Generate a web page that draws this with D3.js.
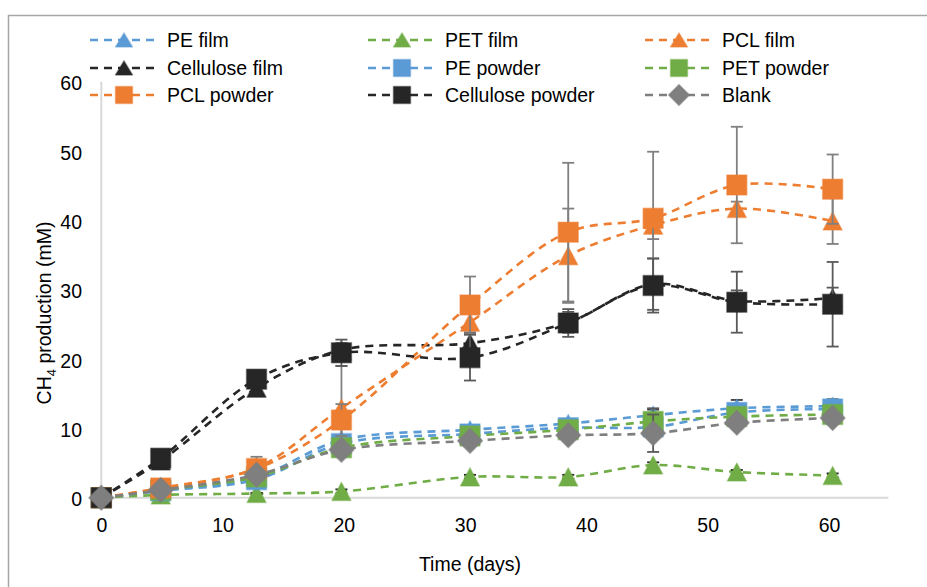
<!DOCTYPE html>
<html>
<head>
<meta charset="utf-8">
<script src="https://cdn.jsdelivr.net/npm/d3@7"></script>
<style>
  html, body { margin: 0; padding: 0; background: #ffffff; }
  svg { display: block; font-family: "Liberation Sans", Arial, sans-serif; }
</style>
</head>
<body>
<svg id="chart" width="927" height="587"></svg>
<script>
// Sampling days
const days = [0, 4.9, 12.8, 19.8, 30.4, 38.5, 45.5, 52.4, 60.3];

// Cumulative CH4 production (mM) per treatment
const peFilm          = [0, 1.0, 3.0, 8.3, 9.8, 10.7, 11.9, 12.9, 13.2];
const petFilm         = [0, 0.4, 0.6, 0.9, 3.0, 3.0, 4.7, 3.7, 3.2];
const pclFilm         = [0, 1.3, 4.3, 12.9, 25.3, 34.9, 39.3, 41.7, 39.9];
const celluloseFilm   = [0, 5.3, 15.8, 21.3, 22.3, 25.3, 30.8, 28.4, 28.8];
const pePowder        = [0, 1.0, 2.6, 7.8, 9.2, 10.1, 10.2, 12.3, 12.8];
const petPowder       = [0, 1.1, 3.0, 7.2, 8.9, 9.8, 11.0, 11.7, 12.0];
const pclPowder       = [0, 1.4, 4.2, 11.2, 27.8, 38.3, 40.3, 45.1, 44.5];
const cellulosePowder = [0, 5.7, 17.1, 20.9, 20.2, 25.2, 30.6, 28.2, 27.9];
const blank           = [0, 1.1, 3.3, 6.9, 8.2, 9.0, 9.3, 10.8, 11.5];

// Standard deviations (mM)
const peFilmSd          = [0, 0.2, 0.3, 0.5, 0.4, 0.5, 0.8, 1.2, 1.0];
const petFilmSd         = [0, 0.1, 0.1, 0.3, 0.3, 0.3, 0.4, 0.3, 0.3];
const pclFilmSd         = [0, 0.3, 0.8, 6.1, 1.5, 6.8, 2.0, 1.0, 3.3];
const celluloseFilmSd   = [0, 0.5, 0.8, 1.0, 1.5, 1.5, 3.7, 1.5, 1.5];
const pePowderSd        = [0, 0.2, 0.5, 0.6, 0.5, 0.5, 1.2, 1.0, 1.0];
const petPowderSd       = [0, 0.2, 0.4, 0.5, 0.5, 0.5, 1.9, 0.8, 0.8];
const pclPowderSd       = [0, 0.3, 1.7, 2.3, 4.1, 10.0, 9.6, 8.4, 5.0];
const cellulosePowderSd = [0, 0.7, 1.0, 1.9, 3.3, 2.0, 3.9, 4.4, 6.1];
const blankSd           = [0, 0.2, 0.4, 0.5, 0.5, 0.5, 2.7, 0.8, 0.8];

const seriesNames = ["PE film", "PET film", "PCL film", "Cellulose film",
                     "PE powder", "PET powder", "PCL powder", "Cellulose powder", "Blank"];
const xTicks = [0, 10, 20, 30, 40, 50, 60];
const yTicks = [0, 10, 20, 30, 40, 50, 60];

const series = [
  { name: seriesNames[0], values: peFilm,          sd: peFilmSd,          color: "#5b9bd5", marker: "triangle", err: "#404040" },
  { name: seriesNames[1], values: petFilm,         sd: petFilmSd,         color: "#70ad47", marker: "triangle", err: "#262626" },
  { name: seriesNames[2], values: pclFilm,         sd: pclFilmSd,         color: "#ed7d31", marker: "triangle", err: "#808080" },
  { name: seriesNames[3], values: celluloseFilm,   sd: celluloseFilmSd,   color: "#262626", marker: "triangle", err: "#595959" },
  { name: seriesNames[4], values: pePowder,        sd: pePowderSd,        color: "#5b9bd5", marker: "square",   err: "#404040" },
  { name: seriesNames[5], values: petPowder,       sd: petPowderSd,       color: "#70ad47", marker: "square",   err: "#595959" },
  { name: seriesNames[6], values: pclPowder,       sd: pclPowderSd,       color: "#ed7d31", marker: "square",   err: "#808080" },
  { name: seriesNames[7], values: cellulosePowder, sd: cellulosePowderSd, color: "#262626", marker: "square",   err: "#595959" },
  { name: seriesNames[8], values: blank,           sd: blankSd,           color: "#7f7f7f", marker: "diamond",  err: "#595959" }
];

const svg = d3.select("#chart");

// Chart frame
svg.append("rect")
  .attr("x", 8.5).attr("y", 15.5).attr("width", 940).attr("height", 600)
  .attr("fill", "#ffffff").attr("stroke", "#a6a6a6").attr("stroke-width", 1.5);

const x = d3.scaleLinear().domain([0, 60]).range([101.3, 829]);
const y = d3.scaleLinear().domain([0, 60]).range([497.7, 81.7]);

// Axis lines (value axis at x = 0, category axis at y = 0)
svg.append("line")
  .attr("x1", x(0)).attr("x2", x(0)).attr("y1", y(60)).attr("y2", y(0))
  .attr("stroke", "#d9d9d9").attr("stroke-width", 2);
svg.append("line")
  .attr("x1", x(-1)).attr("x2", x(64.9)).attr("y1", y(0)).attr("y2", y(0))
  .attr("stroke", "#d9d9d9").attr("stroke-width", 2);

const axisFont = 19.5;
// Tick labels via d3 axes with hidden domain/ticks
const xAxis = d3.axisBottom(x).tickValues(xTicks).tickSize(0).tickPadding(0).tickFormat(d3.format("d"));
svg.append("g").attr("transform", `translate(0, ${y(0) + 20})`).call(xAxis)
  .call(g => g.select(".domain").remove())
  .call(g => g.selectAll("text").attr("font-size", axisFont).attr("fill", "#000")
    .attr("font-family", "inherit"));

const yAxis = d3.axisLeft(y).tickValues(yTicks).tickSize(0).tickPadding(0).tickFormat(d3.format("d"));
svg.append("g").attr("transform", `translate(82, 2)`).call(yAxis)
  .call(g => g.select(".domain").remove())
  .call(g => g.selectAll("text").attr("font-size", axisFont).attr("fill", "#000")
    .attr("font-family", "inherit"));

// Axis titles
svg.append("text")
  .attr("x", 470).attr("y", 571)
  .attr("text-anchor", "middle").attr("font-size", axisFont).attr("fill", "#000")
  .text("Time (days)");

const yTitle = svg.append("text")
  .attr("transform", "translate(51, 313) rotate(-90)")
  .attr("text-anchor", "middle").attr("font-size", axisFont).attr("fill", "#000");
yTitle.append("tspan").text("CH");
yTitle.append("tspan").attr("font-size", 13).attr("dy", 5).text("4");
yTitle.append("tspan").attr("dy", -5).text(" production (mM)");

// Marker shapes
function markerPath(type, s) {
  if (type === "triangle") {
    const w = s.tw, h = s.th;
    return `M0,${-h / 2}L${w / 2},${h / 2}L${-w / 2},${h / 2}Z`;
  }
  if (type === "square") {
    const a = s.sq / 2;
    return `M${-a},${-a}H${a}V${a}H${-a}Z`;
  }
  const d = s.dm / 2;
  return `M0,${-d}L${d},0L0,${d}L${-d},0Z`;
}
const plotSizes = { tw: 19, th: 18, sq: 20, dm: 25 };
const legendSizes = { tw: 17, th: 14, sq: 17, dm: 21 };

const line = d3.line()
  .x(d => x(d.day)).y(d => y(d.v))
  .curve(d3.curveCatmullRom.alpha(0.5));

const plot = svg.append("g");
series.forEach(s => {
  const pts = days.map((day, i) => ({ day, v: s.values[i], sd: s.sd[i] }));
  const g = plot.append("g");
  g.append("path")
    .attr("d", line(pts))
    .attr("fill", "none").attr("stroke", s.color)
    .attr("stroke-width", 2.6).attr("stroke-dasharray", "8,6");

  const eb = g.append("g").attr("stroke", s.err).attr("stroke-width", 1.8);
  pts.filter(p => p.sd > 0).forEach(p => {
    const cx = x(p.day);
    eb.append("line").attr("x1", cx).attr("x2", cx).attr("y1", y(p.v + p.sd)).attr("y2", y(p.v - p.sd));
    eb.append("line").attr("x1", cx - 6).attr("x2", cx + 6).attr("y1", y(p.v + p.sd)).attr("y2", y(p.v + p.sd));
    eb.append("line").attr("x1", cx - 6).attr("x2", cx + 6).attr("y1", y(p.v - p.sd)).attr("y2", y(p.v - p.sd));
  });

  g.selectAll(".mk").data(pts).join("path")
    .attr("class", "mk")
    .attr("transform", d => `translate(${x(d.day)},${y(d.v)})`)
    .attr("d", markerPath(s.marker, plotSizes))
    .attr("fill", s.color)
    .attr("stroke", s.color).attr("stroke-opacity", 0.45).attr("stroke-width", 1.5)
    .attr("stroke-linejoin", "round");
});

// Legend: three columns, three rows
const legendCols = [90, 368, 645];
const legendRows = [40, 68, 95];
const legend = svg.append("g");
series.forEach((s, i) => {
  const lx = legendCols[i % 3], ly = legendRows[Math.floor(i / 3)];
  const g = legend.append("g").attr("transform", `translate(${lx},${ly})`);
  g.append("line").attr("x1", 0).attr("x2", 67).attr("y1", 0).attr("y2", 0)
    .attr("stroke", s.color).attr("stroke-width", 2.6).attr("stroke-dasharray", "8,6");
  g.append("path").attr("transform", "translate(34,0)")
    .attr("d", markerPath(s.marker, legendSizes))
    .attr("fill", s.color).attr("stroke", s.color).attr("stroke-opacity", 0.45)
    .attr("stroke-width", 1.5).attr("stroke-linejoin", "round");
  g.append("text").attr("x", 77).attr("y", 7)
    .attr("font-size", axisFont).attr("fill", "#000").text(s.name);
});
</script>
</body>
</html>
